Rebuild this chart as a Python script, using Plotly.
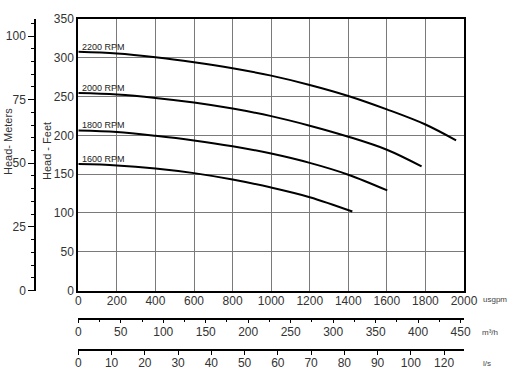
import plotly.graph_objects as go

# ---- data ----
rpm_labels = ["2200 RPM", "2000 RPM", "1800 RPM", "1600 RPM"]

flow_2200 = [0, 200, 400, 600, 800, 1000, 1200, 1400, 1600, 1800, 1959]
head_2200 = [307.7, 305.6, 300.8, 294.3, 286.5, 277.0, 265.0, 250.8, 233.5, 214.0, 193.5]

flow_2000 = [0, 200, 400, 600, 800, 1000, 1200, 1400, 1600, 1780]
head_2000 = [254.5, 252.6, 248.3, 242.3, 234.5, 224.8, 212.5, 198.3, 181.5, 160.0]

flow_1800 = [0, 200, 400, 600, 800, 1000, 1200, 1400, 1602]
head_1800 = [206.3, 204.3, 199.5, 193.5, 186.0, 176.5, 164.5, 149.3, 129.0]

flow_1600 = [0, 200, 400, 600, 800, 1000, 1200, 1421]
head_1600 = [163.0, 161.3, 157.3, 151.3, 143.0, 132.7, 120.3, 101.8]

usgpm_ticks = list(range(0, 2001, 200))
m3h_ticks = list(range(0, 451, 50))
ls_tickvals = list(range(0, 111, 10))
ls_ticktext = ["0", "10", "20", "30", "40", "50", "60", "70", "80", "90", "100", "120"]
meter_ticks = [0, 25, 50, 75, 100]
feet_ticks = list(range(0, 351, 50))

flows = [flow_2200, flow_2000, flow_1800, flow_1600]
heads = [head_2200, head_2000, head_1800, head_1600]

GPM_TO_M3H = 0.22712
GPM_TO_LS = 0.0630902
FT_TO_M = 0.3048

FONT = "Liberation Sans, Arial, sans-serif"
TXT = "#333333"

fig = go.Figure()

for q, h in zip(flows, heads):
    fig.add_trace(go.Scatter(x=q, y=h, mode="lines",
                             line=dict(color="black", width=2, shape="spline", smoothing=1.0),
                             showlegend=False, hoverinfo="skip"))

# invisible helper traces so the secondary axes exist
fig.add_trace(go.Scatter(x=[v * GPM_TO_M3H for v in flow_2200], y=head_2200, xaxis="x2", yaxis="y",
                         mode="markers", marker=dict(opacity=0), showlegend=False, hoverinfo="skip"))
fig.add_trace(go.Scatter(x=[v * GPM_TO_LS for v in flow_2200], y=head_2200, xaxis="x3", yaxis="y",
                         mode="markers", marker=dict(opacity=0), showlegend=False, hoverinfo="skip"))
fig.add_trace(go.Scatter(x=flow_2200, y=[v * FT_TO_M for v in head_2200], xaxis="x", yaxis="y2",
                         mode="markers", marker=dict(opacity=0), showlegend=False, hoverinfo="skip"))

for lab, h in zip(rpm_labels, heads):
    fig.add_annotation(x=0, y=h[0], xref="x", yref="y", text=lab, showarrow=False,
                       xanchor="left", yanchor="bottom", xshift=2, yshift=-2,
                       font=dict(family=FONT, size=9, color="#222"))

L, R, T, B = 30, 49, 19, 28
W, H = 513, 380
pw, ph = W - L - R, H - T - B
x_dom0 = (78.3 - L) / pw
y_dom0 = (H - B - 290.5) / ph

grid = "#7a7a7a"
common_tick = dict(tickcolor="black", tickwidth=1.3, tickfont=dict(size=12, color=TXT), automargin=False)
fig.update_layout(
    width=W, height=H,
    margin=dict(l=L, r=R, t=T, b=B, autoexpand=False),
    paper_bgcolor="white", plot_bgcolor="white",
    font=dict(family=FONT, size=12, color=TXT),
    xaxis=dict(domain=[x_dom0, 1], range=[0, 2000], tickvals=usgpm_ticks, showgrid=True,
               gridcolor=grid, gridwidth=1.2, showline=True, mirror=True, linecolor="black",
               linewidth=2, ticks="", zeroline=False, anchor="y", tickfont=dict(size=12, color=TXT),
               automargin=False, ticklabelstandoff=-2),
    yaxis=dict(domain=[y_dom0, 1], range=[0, 350], tickvals=feet_ticks, showgrid=True,
               gridcolor=grid, gridwidth=1.2, showline=True, mirror=True, linecolor="black",
               linewidth=2, ticks="", zeroline=False, anchor="x", tickfont=dict(size=12, color=TXT),
               automargin=False),
    xaxis2=dict(overlaying="x", anchor="free", position=(H - B - 318.5) / ph, side="bottom",
                range=[0, 454], tickvals=m3h_ticks, showgrid=False, zeroline=False,
                showline=True, linecolor="black", linewidth=1.5, ticks="outside", ticklen=4,
                minor=dict(dtick=25, tick0=0, ticks="outside", ticklen=3, tickcolor="black", tickwidth=1.3),
                ticklabelstandoff=-2, **common_tick),
    xaxis3=dict(overlaying="x", anchor="free", position=(H - B - 350) / ph, side="bottom",
                range=[0, 116], tickvals=ls_tickvals, ticktext=ls_ticktext, showgrid=False,
                zeroline=False, showline=True, linecolor="black", linewidth=1.5, ticks="outside",
                ticklen=4, ticklabelstandoff=-2, **common_tick),
    yaxis2=dict(overlaying="y", anchor="free", position=(35 - L) / pw, side="left",
                range=[0, 350 * FT_TO_M], tickvals=meter_ticks, showgrid=False, zeroline=False,
                showline=True, linecolor="black", linewidth=1.5, ticks="outside", ticklen=6,
                minor=dict(dtick=5, tick0=0, ticks="outside", ticklen=3.5, tickcolor="black", tickwidth=1.3),
                **common_tick),
)

def px_x(px):
    return (px - L) / pw

def px_y(py):
    return (H - B - py) / ph

ann_common = dict(xref="paper", yref="paper", showarrow=False, xanchor="center", yanchor="middle")
fig.add_annotation(x=px_x(8), y=px_y(142), text="Head- Meters", textangle=-90,
                   font=dict(family=FONT, size=11, color=TXT), **ann_common)
fig.add_annotation(x=px_x(47), y=px_y(151), text="Head - Feet", textangle=-90,
                   font=dict(family=FONT, size=11, color=TXT), **ann_common)
fig.add_annotation(x=px_x(495), y=px_y(299), text="usgpm",
                   font=dict(family=FONT, size=8, color="#444"), **ann_common)
fig.add_annotation(x=px_x(490), y=px_y(332), text="m³/h",
                   font=dict(family=FONT, size=8, color="#444"), **ann_common)
fig.add_annotation(x=px_x(487), y=px_y(363), text="l/s",
                   font=dict(family=FONT, size=8, color="#444"), **ann_common)

fig.write_html("out.html", config={"displayModeBar": False},
               post_script="document.body.style.margin='0';document.body.style.padding='0';"
                           "document.body.style.overflow='hidden';")
